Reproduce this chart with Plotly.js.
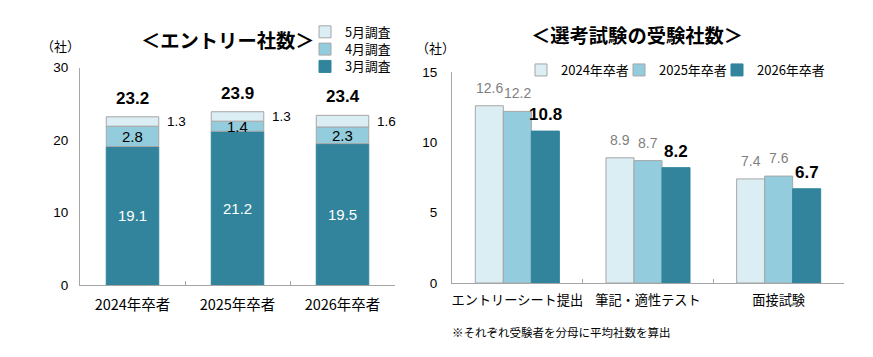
<!DOCTYPE html>
<html><head><meta charset="utf-8">
<script src="https://cdn.plot.ly/plotly-3.0.1.min.js"></script>
<style>html,body{margin:0;padding:0;background:#fff}#c{width:873px;height:357px}</style>
</head><body><div id="c"></div>
<script>
// ---- Left chart data (エントリー社数) ----
const entryCats = ['2024年卒者', '2025年卒者', '2026年卒者'];
const entryMar = [19.1, 21.2, 19.5];
const entryApr = [2.8, 1.4, 2.3];
const entryMay = [1.3, 1.3, 1.6];
const entryTotal = [23.2, 23.9, 23.4];
const entrySeries = ['3月調査', '4月調査', '5月調査'];

// ---- Right chart data (選考試験の受験社数) ----
const examCats = ['エントリーシート提出', '筆記・適性テスト', '面接試験'];
const exam2024 = [12.6, 8.9, 7.4];
const exam2025 = [12.2, 8.7, 7.6];
const exam2026 = [10.8, 8.2, 6.7];
const examSeries = ['2024年卒者', '2025年卒者', '2026年卒者'];

const DARK = '#31849B', MID = '#93CDDD', LIGHT = '#DBEEF4', EDGE = '#A6A6A6';
const FONT = 'Liberation Sans, Arial, Noto Sans CJK JP, sans-serif';
const JFONT = 'Noto Sans CJK JP, Liberation Sans, sans-serif';
const W = 873, H = 357;

const baseApr = entryMar.slice();
const baseMay = entryMar.map((v, i) => v + entryApr[i]);

const traces = [];
const leftStyle = [
  {name: entrySeries[0], y: entryMar, base: entryMar.map(() => 0), color: DARK, line: 0, legend: 'legend5'},
  {name: entrySeries[1], y: entryApr, base: baseApr, color: MID, line: 1, legend: 'legend4'},
  {name: entrySeries[2], y: entryMay, base: baseMay, color: LIGHT, line: 1, legend: 'legend3'},
];
leftStyle.forEach(s => traces.push({
  type: 'bar', x: entryCats, y: s.y, base: s.base, name: s.name,
  width: 0.5, offset: -0.25, offsetgroup: 'L',
  marker: {color: s.color, line: {color: s.line ? EDGE : s.color, width: 1}},
  xaxis: 'x', yaxis: 'y', legend: s.legend, hoverinfo: 'skip'
}));

const rightData = [exam2024, exam2025, exam2026];
const rightColors = [LIGHT, MID, DARK];
const rightLegends = ['legend2', 'legend6', 'legend7'];
rightData.forEach((arr, j) => traces.push({
  type: 'bar', x: examCats, y: arr, name: examSeries[j],
  marker: {color: rightColors[j], line: {color: j < 2 ? EDGE : DARK, width: 1}},
  xaxis: 'x2', yaxis: 'y2', legend: rightLegends[j], hoverinfo: 'skip'
}));

const annotations = [];
// left segment labels
entryCats.forEach((c, i) => {
  annotations.push({xref: 'x', yref: 'y', x: i, y: entryMar[i] / 2, text: entryMar[i].toFixed(1),
    showarrow: false, font: {family: FONT, size: 15, color: '#ffffff'}});
  annotations.push({xref: 'x', yref: 'y', x: i, y: baseApr[i] + entryApr[i] / 2, text: entryApr[i].toFixed(1),
    showarrow: false, font: {family: FONT, size: 15, color: '#000000'}});
  annotations.push({xref: 'x', yref: 'y', x: i, y: baseMay[i] + entryMay[i] / 2, text: entryMay[i].toFixed(1),
    showarrow: false, xanchor: 'left', xshift: 32, font: {family: FONT, size: 13.5, color: '#000000'}});
  annotations.push({xref: 'x', yref: 'y', x: i, y: entryTotal[i], text: '<b>' + entryTotal[i].toFixed(1) + '</b>',
    showarrow: false, yanchor: 'bottom', yshift: 7, font: {family: FONT, size: 17, color: '#000000'}});
});
// right bar labels
const BARGAP = 0.357;
const bw = (1 - BARGAP) / 3;
rightData.forEach((arr, j) => arr.forEach((v, i) => {
  const bold = j === 2;
  annotations.push({xref: 'x2', yref: 'y2', x: i + (j - 1) * bw, y: v,
    text: bold ? '<b>' + v.toFixed(1) + '</b>' : v.toFixed(1),
    showarrow: false, yanchor: 'bottom', yshift: bold ? 5 : 8,
    font: {family: FONT, size: bold ? 17 : 14, color: bold ? '#000000' : '#7F7F7F'}});
}));
// titles & misc text
function paperText(x, y, text, size, anchor) {
  annotations.push({xref: 'paper', yref: 'paper', x: x / W, y: 1 - y / H, xanchor: anchor || 'center', yanchor: 'middle',
    text: text, showarrow: false, font: {family: JFONT, size: size, color: '#000'}});
}
paperText(228, 40, '<b>＜エントリー社数＞</b>', 19.3);
paperText(637, 35, '<b>＜選考試験の受験社数＞</b>', 19.3);
paperText(60, 45, '（社）', 13);
paperText(435, 48, '（社）', 13);
paperText(450, 332, '※それぞれ受験者を分母に平均社数を算出', 11.5, 'left');

const axisCommon = {showline: true, linecolor: EDGE, linewidth: 1, showgrid: false, zeroline: false, fixedrange: true};
function oneLegend(xText, yc, size) {
  return {x: (xText - 40) / W, y: 1 - yc / H, xanchor: 'left', yanchor: 'middle', orientation: 'v',
    bgcolor: 'rgba(0,0,0,0)', font: {family: JFONT, size: size, color: '#000'}, itemwidth: 30, borderwidth: 0};
}

const layout = {
  width: W, height: H, margin: {l: 0, r: 0, t: 0, b: 0},
  paper_bgcolor: '#ffffff', plot_bgcolor: '#ffffff',
  barmode: 'group', bargap: BARGAP, bargroupgap: 0,
  font: {family: FONT, color: '#000'},
  xaxis: Object.assign({}, axisCommon, {domain: [80 / W, 395 / W], range: [-0.5, 2.5], type: 'category',
    ticks: 'inside', tickson: 'boundaries', ticklen: 4, tickcolor: EDGE, tickangle: 0, ticklabelstandoff: 7,
    tickfont: {family: JFONT, size: 14.5, color: '#000'}, anchor: 'y'}),
  yaxis: Object.assign({}, axisCommon, {domain: [(H - 285) / H, (H - 67.5) / H], range: [0, 30], dtick: 10,
    ticks: '', ticklabelstandoff: 8, tickfont: {family: FONT, size: 13.5, color: '#000'}, anchor: 'x'}),
  xaxis2: Object.assign({}, axisCommon, {domain: [452 / W, 844 / W], range: [-0.5, 2.5], type: 'category',
    ticks: 'inside', tickson: 'boundaries', ticklen: 4, tickcolor: EDGE, tickangle: 0, ticklabelstandoff: 5,
    tickfont: {family: JFONT, size: 13.2, color: '#000'}, anchor: 'y2'}),
  yaxis2: Object.assign({}, axisCommon, {domain: [(H - 283) / H, (H - 72) / H], range: [0, 15], dtick: 5,
    ticks: '', ticklabelstandoff: 11, tickfont: {family: FONT, size: 13.5, color: '#000'}, anchor: 'x2'}),
  legend3: oneLegend(345, 32, 12.8),
  legend4: oneLegend(345, 49.3, 12.8),
  legend5: oneLegend(345, 66.6, 12.8),
  legend2: oneLegend(561, 70, 13),
  legend6: oneLegend(659, 70, 13),
  legend7: oneLegend(757, 70, 13),
  annotations: annotations,
  showlegend: true
};

Plotly.newPlot('c', traces, layout, {displayModeBar: false, staticPlot: true});
</script>
</body></html>
